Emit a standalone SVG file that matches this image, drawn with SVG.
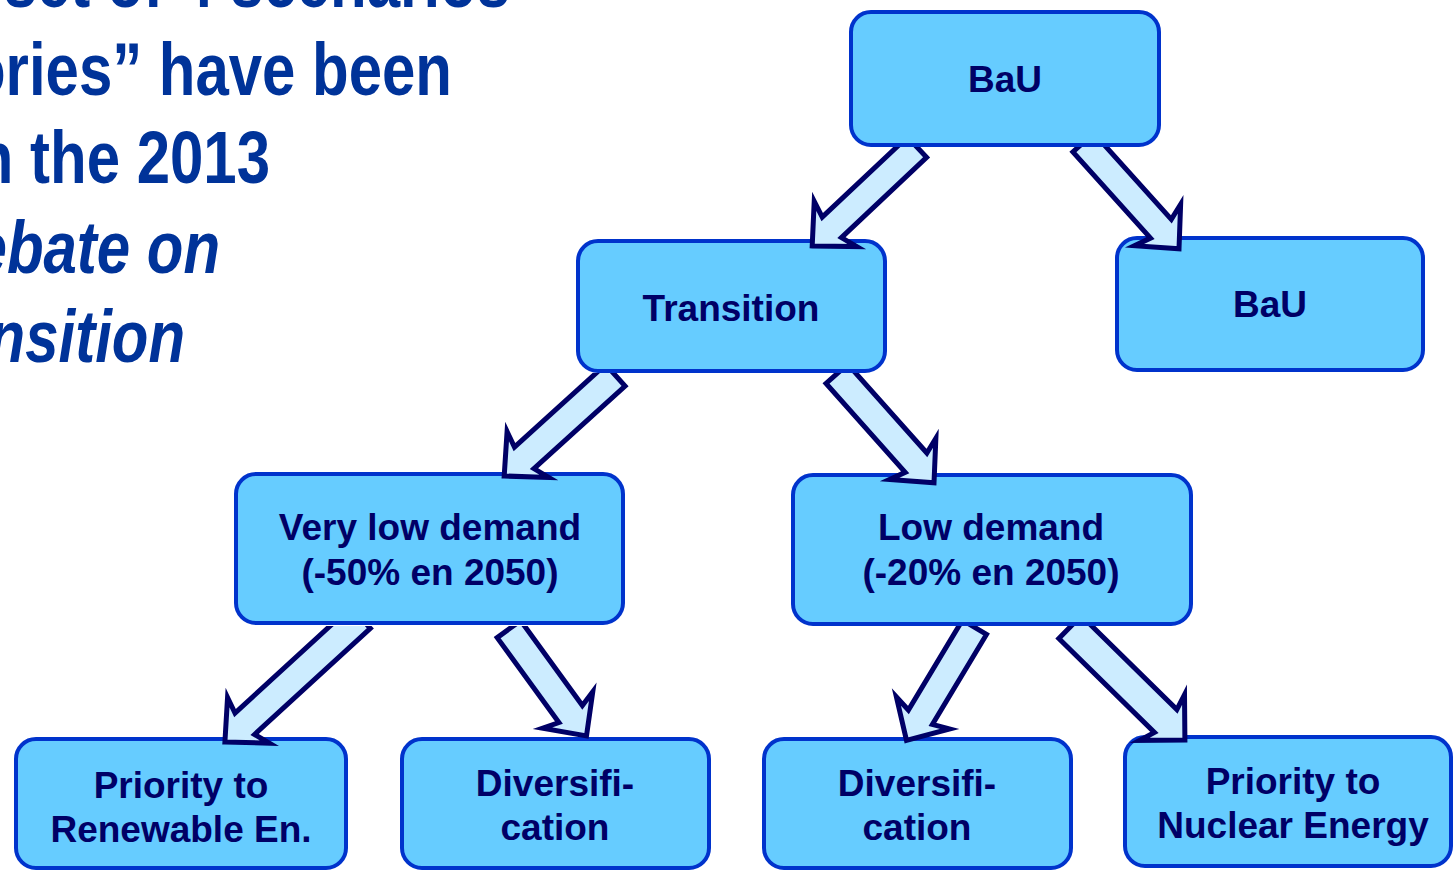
<svg xmlns="http://www.w3.org/2000/svg" width="1454" height="872" viewBox="0 0 1454 872">
<style>
.box{fill:#66CCFF;stroke:#0033CC;stroke-width:4}
.lbl{font-family:"Liberation Sans",Arial,sans-serif;font-weight:bold;font-size:37px;fill:#000066;text-anchor:middle}
.arr{fill:#CCECFF;stroke:#000066;stroke-width:5;stroke-linejoin:miter;stroke-miterlimit:10}
.ttl{font-family:"Liberation Sans",Arial,sans-serif;font-weight:bold;font-size:74px;fill:#003399;text-anchor:end}
.it{font-style:italic}
</style>
<defs>
<clipPath id="c1"><rect x="0" y="147" width="1454" height="725"/></clipPath>
<clipPath id="c2"><rect x="0" y="373" width="1454" height="499"/></clipPath>
<clipPath id="c3"><rect x="0" y="626" width="1454" height="246"/></clipPath>
</defs>
<rect width="1454" height="872" fill="#FFFFFF"/>
<g id="title" transform="scale(0.81,1)">
<text class="ttl" x="629.6" y="7">A set of 4 scenarios</text>
<text class="ttl" x="558" y="95">trajectories” have been</text>
<text class="ttl" x="333.3" y="183">in the 2013</text>
<text class="ttl it" x="271.6" y="273">debate on</text>
<text class="ttl it" x="228.4" y="362">transition</text>
</g>
<g id="n-bau-top"><rect class="box" x="851" y="12" width="308" height="133" rx="20"/><text class="lbl" x="1005" y="92">BaU</text></g>
<g id="n-transition"><rect class="box" x="578" y="241" width="307" height="130" rx="20"/><text class="lbl" x="731" y="321">Transition</text></g>
<g id="n-bau-right"><rect class="box" x="1117" y="238" width="306" height="132" rx="20"/><text class="lbl" x="1270" y="317">BaU</text></g>
<g id="n-very-low"><rect class="box" x="236" y="474" width="387" height="149" rx="20"/><text class="lbl" x="430" y="540">Very low demand</text><text class="lbl" x="430" y="585">(-50% en 2050)</text></g>
<g id="n-low"><rect class="box" x="793" y="475" width="398" height="149" rx="20"/><text class="lbl" x="991" y="540">Low demand</text><text class="lbl" x="991" y="585">(-20% en 2050)</text></g>
<g id="n-prio-re"><rect class="box" x="16" y="739" width="330" height="129" rx="20"/><text class="lbl" x="181" y="798">Priority to</text><text class="lbl" x="181" y="842">Renewable En.</text></g>
<g id="n-div1"><rect class="box" x="402" y="739" width="307" height="129" rx="20"/><text class="lbl" x="555" y="796">Diversifi-</text><text class="lbl" x="555" y="840">cation</text></g>
<g id="n-div2"><rect class="box" x="764" y="739" width="307" height="129" rx="20"/><text class="lbl" x="917" y="796">Diversifi-</text><text class="lbl" x="917" y="840">cation</text></g>
<g id="n-prio-ne"><rect class="box" x="1125" y="737" width="326" height="129" rx="20"/><text class="lbl" x="1293" y="794">Priority to</text><text class="lbl" x="1293" y="838">Nuclear Energy</text></g>
<g id="connectors">
<g clip-path="url(#c1)"><path class="arr" transform="translate(812.2,245.9) rotate(136.7)" d="M0,0 L-32,-31 L-27,-14 L-144,-14 L-144,14 L-27,14 L-32,31 Z"/></g>
<g clip-path="url(#c1)"><path class="arr" transform="translate(1179,248.8) rotate(48)" d="M0,0 L-32,-31 L-27,-14 L-143,-14 L-143,14 L-27,14 L-32,31 Z"/></g>
<g clip-path="url(#c2)"><path class="arr" transform="translate(504.2,476) rotate(137.8)" d="M0,0 L-32,-31 L-27,-14.5 L-150,-14.5 L-150,14.5 L-27,14.5 L-32,31 Z"/></g>
<g clip-path="url(#c2)"><path class="arr" transform="translate(934,482.8) rotate(48.3)" d="M0,0 L-32,-31 L-27,-14.5 L-146,-14.5 L-146,14.5 L-27,14.5 L-32,31 Z"/></g>
<g clip-path="url(#c3)"><path class="arr" transform="translate(224.9,742) rotate(137.5)" d="M0,0 L-32,-31 L-27,-14.5 L-184,-14.5 L-184,14.5 L-27,14.5 L-32,31 Z"/></g>
<g clip-path="url(#c3)"><path class="arr" transform="translate(586.5,735.9) rotate(54)" d="M0,0 L-32,-31 L-27,-14.5 L-132,-14.5 L-132,14.5 L-27,14.5 L-32,31 Z"/></g>
<g clip-path="url(#c3)"><path class="arr" transform="translate(906.5,740.4) rotate(121)" d="M0,0 L-32,-31 L-27,-14 L-132,-14 L-132,14 L-27,14 L-32,31 Z"/></g>
<g clip-path="url(#c3)"><path class="arr" transform="translate(1184.9,739.9) rotate(44.5)" d="M0,0 L-32,-32 L-27,-16 L-161,-16 L-161,16 L-27,16 L-32,32 Z"/></g>
</g>
</svg>
